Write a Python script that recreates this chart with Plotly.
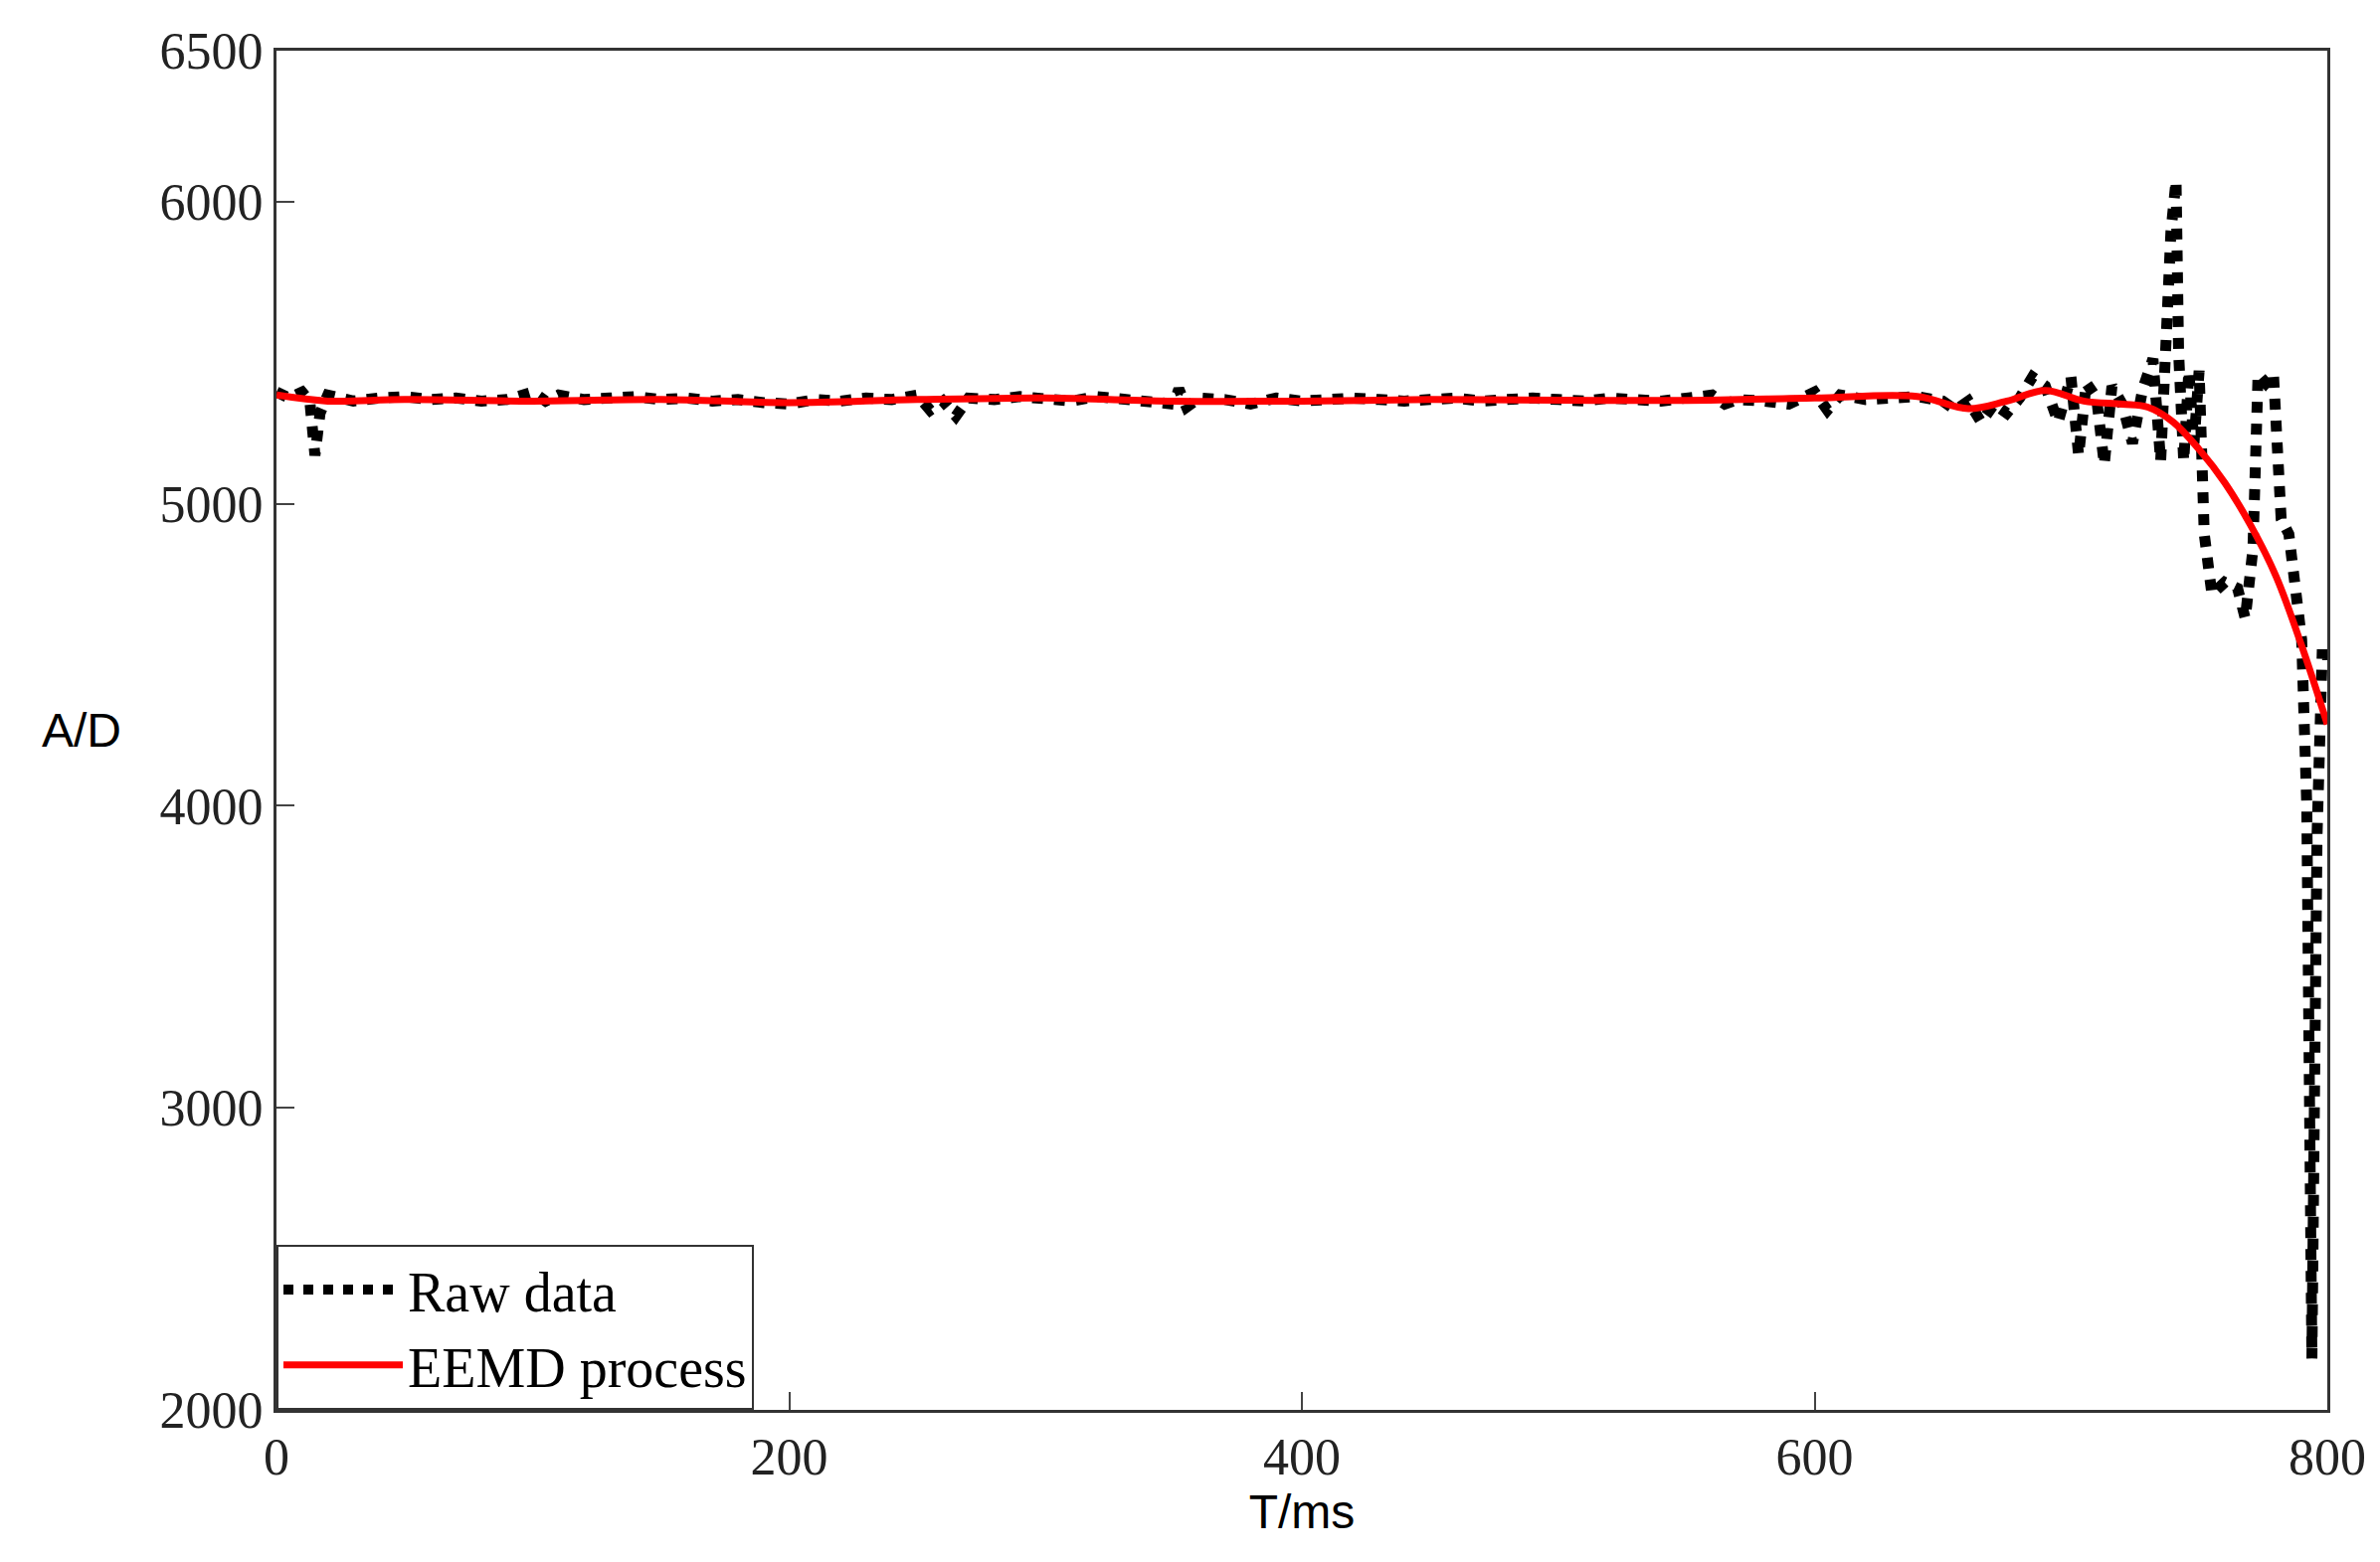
import plotly.graph_objects as go

raw_t = [0,5,10,13,15,17,20,30,40,50,60,70,80,90,100,105,110,120,130,140,150,160,170,180,190,200,210,220,230,240,250,255,260,265,270,280,290,300,310,320,330,340,350,352,355,360,370,380,390,400,410,420,430,440,450,460,470,480,490,500,510,520,530,540,550,560,565,570,580,590,600,605,610,620,630,640,650,655,660,665,670,675,680,685,690,695,700,703,706,710,713,716,720,724,728,732,735,737,739,741,742,744,746,748,750,752,755,760,765,768,771,773,776,779,782,785,788,790,792,793,794,796,798,800]
raw_v = [5370,5350,5370,5340,5160,5300,5360,5340,5350,5355,5345,5350,5340,5345,5370,5340,5360,5345,5350,5355,5345,5350,5340,5345,5335,5330,5345,5340,5350,5345,5360,5310,5340,5290,5350,5345,5355,5350,5340,5355,5345,5340,5330,5380,5320,5350,5345,5330,5350,5340,5345,5350,5345,5340,5345,5350,5340,5345,5350,5345,5340,5350,5345,5340,5350,5360,5330,5345,5340,5330,5370,5310,5360,5345,5350,5355,5340,5310,5340,5270,5330,5300,5350,5420,5390,5270,5420,5160,5400,5350,5130,5390,5330,5200,5380,5480,5140,5600,5900,6070,5500,5140,5440,5200,5440,4900,4700,4740,4720,4620,4850,5430,5400,5430,4950,4900,4650,4550,4000,3000,2170,3900,4500,4500]
eemd_t = [0,20,50,100,150,200,250,300,350,400,450,500,550,600,640,660,675,690,705,720,730,740,750,760,770,780,790,800]
eemd_v = [5360,5340,5345,5340,5345,5335,5345,5350,5340,5340,5345,5343,5342,5350,5355,5315,5340,5375,5340,5330,5320,5270,5180,5070,4930,4760,4530,4270]

fig = go.Figure()
fig.add_trace(go.Scatter(x=raw_t, y=raw_v, mode="lines", name="Raw data",
                         line=dict(color="black", width=11, dash="dot")))
fig.add_trace(go.Scatter(x=eemd_t, y=eemd_v, mode="lines", name="EEMD process",
                         line=dict(color="red", width=7, shape="spline")))
tickfont = dict(family="Liberation Serif", size=52, color="#222")
ax = dict(showgrid=False, zeroline=False, ticks="inside", ticklen=18, tickwidth=2,
          linecolor="#333", linewidth=3, mirror=True, tickfont=tickfont)
fig.update_xaxes(range=[0, 800], tickvals=[0,200,400,600,800], **ax,
                 title=dict(text="T/ms", font=dict(family="Liberation Sans", size=48, color="black"), standoff=0))
fig.update_yaxes(range=[2000, 6500], tickvals=[2000,3000,4000,5000,6000,6500], **ax)
fig.add_annotation(text="A/D", xref="paper", yref="paper", x=-0.095, y=0.5, showarrow=False,
                   xanchor="center", font=dict(family="Liberation Sans", size=48, color="black"))
fig.update_layout(width=2393, height=1571, plot_bgcolor="white", paper_bgcolor="white",
                  margin=dict(l=270, r=61, t=43, b=161),
                  legend=dict(x=0, y=0, xanchor="left", yanchor="bottom", bgcolor="white",
                              bordercolor="#333", borderwidth=2, itemwidth=120,
                              font=dict(family="Liberation Serif", size=56, color="black")))
fig.write_html("out.html")
